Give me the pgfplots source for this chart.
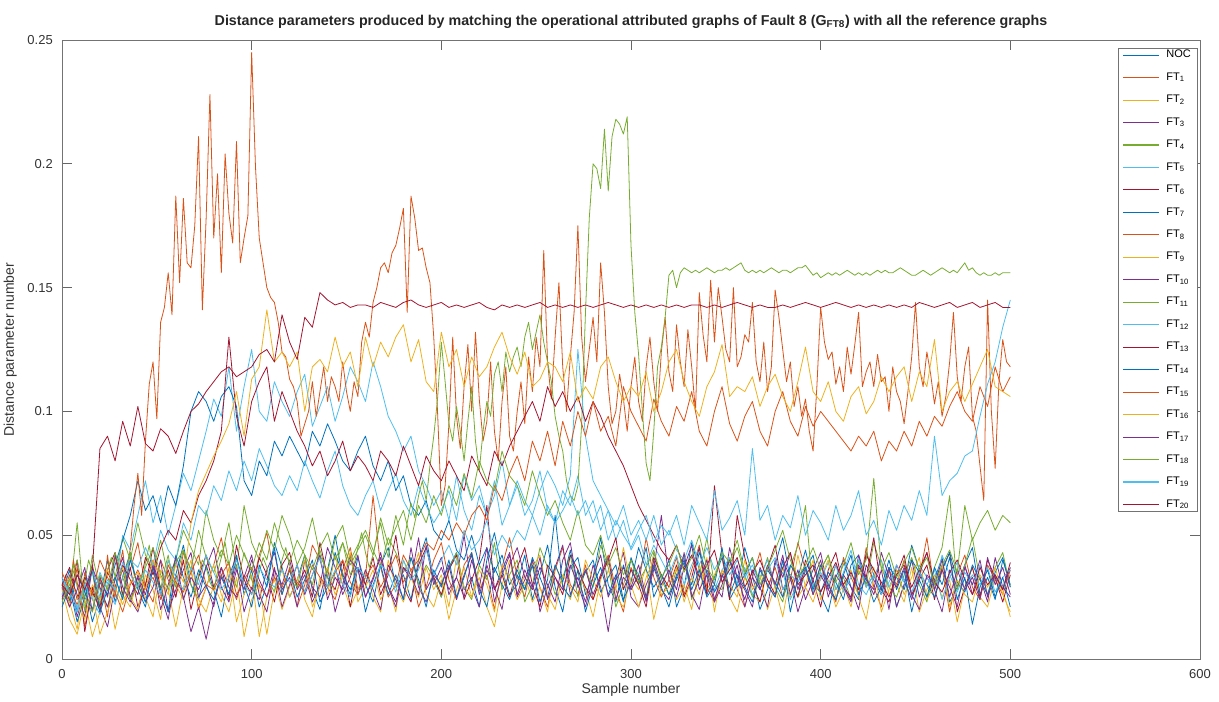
\documentclass[border=0pt]{standalone}
\usepackage{fontspec}
\setmainfont{Liberation Sans}
\usepackage{pgfplots}
\usepackage{pgfplotstable}
\pgfplotsset{compat=1.18}
\definecolor{c1}{rgb}{0,0.447,0.741}
\definecolor{c2}{rgb}{0.85,0.325,0.098}
\definecolor{c3}{rgb}{0.929,0.694,0.125}
\definecolor{c4}{rgb}{0.494,0.184,0.556}
\definecolor{c5}{rgb}{0.466,0.674,0.188}
\definecolor{c6}{rgb}{0.301,0.745,0.933}
\definecolor{c7}{rgb}{0.635,0.078,0.184}
% values in thousandths of the distance parameter
\pgfplotstableread[header=false]{
x 0 2 4 6 8 10 12 14 16 18  20 22 24 26 28 30 32 34 36 38  40 42 44 46 48 50 52 54 56 58  60 62 64 66 68 70 72 74 76 78  80 82 84 86 88 90 92 94 96 98  100 102 104 106 108 110 112 114 116 118  120 122 124 126 128 130 132 134 136 138  140 142 144 146 148 150 152 154 156 158  160 162 164 166 168 170 172 174 176 178  180 182 184 186 188 190 192 194 196 198  200 202 204 206 208 210 212 214 216 218  220 222 224 226 228 230 232 234 236 238  240 242 244 246 248 250 252 254 256 258  260 262 264 266 268 270 272 274 276 278  280 282 284 286 288 290 292 294 296 298  300 302 304 306 308 310 312 314 316 318  320 322 324 326 328 330 332 334 336 338  340 342 344 346 348 350 352 354 356 358  360 362 364 366 368 370 372 374 376 378  380 382 384 386 388 390 392 394 396 398  400 402 404 406 408 410 412 414 416 418  420 422 424 426 428 430 432 434 436 438  440 442 444 446 448 450 452 454 456 458  460 462 464 466 468 470 472 474 476 478  480 482 484 486 488 490 492 494 496 498  500
FT8 28 34 26 40 31 22 35 29 38 24  33 27 42 30 25 36 44 31 45 62  75 58 88 111 120 97 136 142 156 139  187 152 186 160 158 175 211 141 178 228  170 196 156 204 180 168 209 160 170 179  245 199 170 160 150 146 144 136 124 122  113 110 104 90 95 100 112 98 108 118  104 114 110 104 120 108 100 112 106 128  136 130 144 150 158 160 156 164 167 174  182 140 187 178 165 166 158 152 130 100  62 70 95 130 98 85 110 127 100 132  105 88 96 120 92 80 104 118 90 84  100 112 95 122 108 130 118 165 120 105  130 152 118 100 122 140 175 130 112 125  138 120 160 140 110 95 100 115 105 92  110 122 104 96 118 130 112 100 124 138  116 108 135 120 110 133 118 100 148 131  120 153 128 150 138 125 120 150 118 122  131 128 144 120 112 128 108 118 149 138  125 112 120 102 110 98 105 92 84 110  142 128 121 124 111 118 108 126 115 127  140 110 116 120 110 123 112 114 100 118  108 104 95 108 122 144 118 110 124 115  103 112 98 106 120 140 114 104 118 126  98 92 78 64 145 100 77 112 129 120  118
FT11 30 26 33 38 29 24 31 40 35 27  22 30 36 41 33 28 25 37 43 34  30 27 39 46 35 31 28 36 42 33  29 38 44 35 30 26 34 40 37 31  28 35 41 47 38 33 29 36 43 39  32 28 35 41 37 30 27 33 40 45  38 32 29 36 42 34 30 37 44 39  33 28 35 42 47 40 34 38 45 51  43 37 42 49 55 47 41 50 58 52  46 55 63 57 66 72 64 78 90 105  128 112 95 88 102 92 80 96 110 88  76 92 104 98 115 120 108 124 116 122  126 118 130 136 125 132 139 128 120 112  98 90 84 72 66 64 70 95 140 178  200 198 190 214 189 211 218 216 212 219  167 140 123 100 79 72 92 118 126 138  155 157 150 156 158 157 156 157 156 157  158 157 156 157 157 158 157 158 159 160  157 156 157 156 157 156 157 158 157 156  157 157 156 157 158 158 159 157 155 156  154 155 156 155 156 155 156 157 156 155  156 155 156 155 156 157 156 157 156 156  157 158 157 156 155 155 156 157 156 155  156 157 158 157 156 157 156 158 160 157  158 156 155 156 155 155 156 155 156 156  156
}\rawA
\pgfplotstabletranspose[colnames from=0]\tabA\rawA
\pgfplotstableread[header=false]{
x 0 4 8 12 16 20 24 28 32 36  40 44 48 52 56 60 64 68 72 76  80 84 88 92 96 100 104 108 112 116  120 124 128 132 136 140 144 148 152 156  160 164 168 172 176 180 184 188 192 196  200 204 208 212 216 220 224 228 232 236  240 244 248 252 256 260 264 268 272 276  280 284 288 292 296 300 304 308 312 316  320 324 328 332 336 340 344 348 352 356  360 364 368 372 376 380 384 388 392 396  400 404 408 412 416 420 424 428 432 436  440 444 448 452 456 460 464 468 472 476  480 484 488 492 496 500
NOC 26 36 19 30 15 25 40 23 33 43  28 21 37 29 19 34 46 30 24 38  28 17 33 42 26 36 21 30 47 37  25 32 42 28 20 36 50 33 26 41  30 23 38 45 29 34 24 40 49 32  25 37 43 28 33 21 40 51 36 26  30 42 24 34 46 29 19 37 41 26  33 49 30 23 38 28 34 45 25 32  40 21 29 47 36 26 33 41 24 30  45 34 20 28 38 49 32 25 36 42  26 19 33 40 29 24 43 34 28 37  21 30 46 36 25 32 41 23 29 38  45 26 33 24 40 30
FT1 29 21 37 13 28 33 17 42 25 36  47 29 23 40 32 25 43 36 20 29  38 49 32 24 34 28 42 51 33 26  37 21 30 46 40 29 24 36 45 28  33 66 37 25 30 42 36 21 29 40  47 32 24 38 43 28 34 20 37 49  33 25 40 29 21 36 45 30 26 38  24 34 42 28 19 37 30 49 33 25  32 41 26 36 46 29 23 34 40 28  21 33 43 29 37 25 32 47 36 26  38 30 23 41 33 26 45 29 21 36  30 40 25 33 49 28 37 19 34 42  29 24 38 32 26 36
FT2 28 16 10 24 9 19 30 12 26 21  33 25 17 36 28 13 29 40 24 19  30 23 37 15 26 34 9 25 32 20  29 38 24 17 33 26 42 30 21 28  36 25 19 40 29 23 33 43 26 21  32 16 28 37 25 33 21 13 30 40  26 34 23 29 19 38 30 24 36 28  17 32 40 25 21 33 28 37 16 29  36 24 30 20 38 28 34 42 25 19  33 26 23 37 29 17 34 25 30 40  24 32 21 28 36 25 16 33 40 26  30 23 37 19 28 34 25 32 15 29  37 25 21 33 28 17
FT3 25 33 17 28 38 21 13 29 36 24  19 30 40 26 16 34 25 11 21 8  23 33 26 38 19 29 24 36 43 28  33 21 40 29 25 37 19 30 42 26  36 28 20 38 32 24 45 29 23 34  41 26 33 50 29 21 38 28 36 43  25 32 40 19 29 37 46 26 33 23  38 29 11 33 43 25 21 30 37 28  24 34 41 26 20 36 30 25 45 33  28 21 37 30 25 40 33 19 29 36  43 28 24 34 29 20 38 32 26 37  21 30 40 25 33 28 19 36 29 38  26 33 23 41 29 25
FT4 30 24 55 19 42 28 21 33 49 40  55 42 36 48 33 40 52 45 38 60  48 41 55 36 62 47 40 52 44 58  50 38 45 57 42 35 48 54 40 46  52 44 37 49 43 35 41 30 38 33  25 36 43 29 24 38 32 47 28 34  40 23 30 45 37 26 33 42 25 36  29 46 37 21 30 40 34 25 43 32  26 36 42 24 33 49 30 28 38 45  34 25 32 41 29 23 37 46 62 26  36 42 28 33 24 40 30 47 37 29  25 34 41 30 23 37 45 66 28 38  49 32 26 37 43 29
FT5 26 32 20 29 24 18 31 27 50 44  58 72 55 66 50 62 75 68 80 92  105 98 118 92 110 125 100 96 112 104  98 108 115 94 102 110 96 106 118 112  104 120 110 98 92 84 90 76 70 62  68 56 74 60 52 66 58 72 54 62  70 58 64 76 60 55 68 62 74 58  64 52 60 48 56 44 50 38 46 40  34 42 30 38 45 33 28 36 41 30  37 26 33 40 29 35 24 31 38 27  32 39 28 35 44 30 26 33 40 29  36 31 25 38 33 28 42 34 27 35  30 38 26 33 29 37
FT6 33 23 40 11 29 19 36 43 26 37  21 30 45 28 36 25 40 20 33 42  29 37 24 46 32 26 41 34 23 38  43 29 36 25 47 33 28 40 21 37  30 41 26 34 50 29 23 38 45 33  26 36 42 24 32 40 62 28 34 25  37 45 30 21 38 33 26 42 36 29  24 33 40 49 28 36 30 21 41 34  29 38 25 33 45 26 70 42 24 58  41 30 23 37 46 28 34 25 40 32  21 36 43 29 25 37 33 49 28 23  34 42 26 32 38 24 36 43 19 29  37 25 40 33 23 34
FT7 29 23 34 27 20 31 26 38 48 58  72 60 66 55 70 62 78 100 108 104  96 106 110 102 72 66 80 74 88 82  90 84 78 92 86 95 88 80 76 84  90 78 72 80 68 74 62 58 64 52  48 56 44 40 50 38 45 35 42 30  36 28 41 33 25 38 31 44 29 35  40 27 33 38 24 31 45 36 29 34  26 32 39 30 43 35 27 33 40 29  34 41 28 36 31 25 38 33 44 30  27 35 31 24 38 42 29 34 26 37  33 28 40 35 30 25 36 43 31 27  38 32 26 35 41 29
FT9 30 23 12 33 26 10 19 29 37 25  20 34 28 16 40 30 24 36 21 29  38 26 19 33 9 24 30 10 28 36  25 32 40 21 29 37 26 33 43 23  29 36 24 30 19 40 33 25 37 28  34 21 41 29 25 36 30 19 38 33  24 30 37 42 26 20 34 29 23 40  32 25 36 28 45 30 21 33 40 26  29 37 23 33 26 41 19 36 30 25  40 28 34 20 30 37 25 42 29 23  33 40 25 30 21 36 29 37 19 28  36 26 33 41 24 30 38 21 32 26  23 34 29 37 26 19
FT10 24 34 26 17 37 29 21 32 41 25  33 23 29 40 19 28 36 43 25 30  21 37 29 25 33 42 26 19 36 30  40 28 34 23 30 45 37 26 33 42  25 33 41 29 21 37 32 49 28 34  30 38 24 34 42 26 36 29 20 38  45 33 28 37 30 23 40 47 29 36  26 34 41 24 33 29 38 25 36 58  32 25 37 46 28 34 23 30 40 33  24 36 29 21 40 33 43 28 37 26  34 28 38 30 24 42 33 26 36 20  38 32 24 34 43 28 36 29 21 37  30 40 25 34 28 37
FT12 32 26 19 30 24 35 28 22 33 40  37 45 38 52 44 40 55 48 62 58  70 64 76 68 80 72 85 78 70 66  74 68 80 72 65 76 84 70 62 58  66 72 60 68 75 64 58 70 62 55  60 68 56 74 64 70 58 66 80 62  72 64 58 68 76 70 62 74 125 90  72 66 60 54 62 50 56 48 58 46  52 44 40 48 38 45 36 42 34 40  33 38 30 36 41 28 34 31 37 29  35 30 38 27 33 40 29 34 26 31  38 32 27 35 30 36 24 33 39 28  34 30 37 27 33 36
FT13 30 37 24 33 27 21 35 29 38 32  26 41 34 45 52 48 60 55 66 72  80 92 130 98 86 104 112 118 96 108  100 92 86 78 84 74 80 88 76 82  78 72 84 80 74 86 78 70 82 76  72 80 74 68 82 76 70 84 78 86  92 98 104 96 110 102 108 100 106 96  104 98 90 84 78 70 62 56 50 44  40 46 36 42 33 38 44 31 36 41  29 35 40 32 26 37 43 30 34 38  27 33 39 30 35 28 42 36 31 25  34 38 29 36 43 31 27 35 40 32  26 37 30 34 28 39
FT14 21 29 15 25 36 19 28 33 24 40  30 23 37 28 19 42 33 25 36 29  24 34 26 41 30 21 38 29 45 26  36 25 32 40 23 29 43 34 28 37  19 30 38 26 34 24 41 32 21 36  29 40 25 33 43 28 21 37 30 24  34 28 38 23 32 58 29 25 36 19  30 37 26 34 23 41 32 24 38 29  21 33 40 28 36 25 30 45 26 34  29 23 36 30 25 40 19 33 37 28  38 30 24 34 42 26 33 23 29 40  28 36 19 32 25 37 30 41 24 33  14 29 36 25 33 21
FT15 35 28 22 31 26 40 33 27 19 30  36 29 33 24 38 31 27 35 42 30  28 34 39 26 32 37 30 25 33 29  36 31 27 38 33 29 35 40 31 26  33 38 29 35 42 31 36 40 47 44  52 48 55 50 58 62 56 70 64 75  82 72 88 80 92 78 96 86 100 90  104 92 98 86 110 100 94 88 105 96  90 102 96 108 92 86 100 110 95 88  98 104 92 86 100 108 96 90 102 94  100 96 92 88 84 90 86 92 80 88  84 92 86 96 90 98 94 102 108 100  96 110 102 118 108 114
FT16 27 33 25 16 30 24 36 29 22 31  35 28 40 33 26 38 31 55 68 75  82 88 95 108 90 113 118 141 120 124  118 124 100 118 121 116 130 118 124 110  130 118 128 122 130 135 120 129 112 108  132 118 125 110 122 114 118 126 132 122  115 124 110 113 120 118 112 124 104 110  105 118 122 112 104 110 106 116 100 108  120 125 112 104 98 110 116 127 106 110  108 114 102 110 115 106 100 112 126 108  104 112 100 96 106 110 99 104 114 108  114 118 104 116 110 129 100 108 112 104  111 118 125 110 108 106
FT17 30 21 28 37 19 33 25 42 29 23  34 26 38 20 30 41 24 33 28 37  45 29 23 36 28 40 32 25 37 21  30 38 26 34 42 24 33 28 40 36  25 32 43 29 23 37 34 26 46 30  37 28 33 25 40 29 45 23 34 42  26 36 29 41 24 33 28 38 30 21  33 42 25 32 37 28 34 23 40 30  36 28 43 25 32 40 24 34 29 38  21 33 28 38 30 42 26 36 24 32  40 25 34 29 23 38 32 28 43 33  29 37 26 20 34 30 40 25 36 28  33 24 41 30 37 26
FT18 23 30 40 25 19 34 28 43 33 24  30 37 45 34 28 39 44 36 52 41  35 44 38 50 42 36 47 40 55 45  39 48 42 36 45 51 40 47 38 44  50 42 57 46 53 60 48 62 55 66  58 70 62 75 65 80 72 68 84 74  70 62 76 66 58 64 55 48 60 46  42 50 38 45 34 40 31 37 44 33  38 46 35 41 50 37 32 43 39 48  35 41 30 37 44 52 40 33 38 45  36 42 31 38 47 34 40 73 36 43  33 39 45 36 41 30 38 44 35 62  48 55 60 52 58 55
FT19 33 27 21 30 36 25 32 28 39 34  29 36 31 26 40 33 28 37 30 42  35 28 33 40 30 26 37 32 29 36  31 38 27 34 41 29 36 30 25 37  33 29 38 35 27 40 32 36 44 34  40 46 38 52 44 48 56 42 50 45  52 48 58 50 62 55 60 66 58 64  55 62 48 56 50 45 52 58 47 54  50 58 46 62 55 48 68 52 57 64  50 85 56 62 48 58 53 66 50 60  55 48 62 52 58 68 50 56 46 60  52 62 56 68 58 90 66 72 75 82  84 98 111 120 134 145
FT20 30 26 34 28 36 85 90 80 96 86  102 87 84 93 90 83 92 100 103 108  112 116 118 114 116 118 123 125 120 139  128 121 138 134 148 145 143 144 142 143  143 142 144 143 142 144 145 143 142 143  144 142 143 142 143 144 142 141 143 142  143 142 143 144 142 143 142 143 142 143  142 143 144 143 142 143 142 143 142 143  142 143 142 143 143 142 143 142 143 144  143 142 143 142 142 143 142 143 144 143  142 143 144 143 142 143 142 143 142 143  142 143 142 144 143 142 143 144 142 143  144 142 143 144 142 142
}\rawB
\pgfplotstabletranspose[colnames from=0]\tabB\rawB
\begin{document}
\begin{tikzpicture}
\begin{axis}[
  scale only axis, width=853.5pt, height=464.25pt,
  xmin=0, xmax=600, ymin=0, ymax=250,
  xtick={0,100,...,600}, ytick={0,50,...,250},
  yticklabels={0,0.05,0.1,0.15,0.2,0.25},
  tick align=inside, major tick length=7.5pt,
  axis line style={black!55, line width=0.6pt},
  every tick/.style={black!60, line width=0.6pt},
  tick label style={font=\fontsize{9.75}{11}\selectfont, text=black!80},
  /pgf/number format/assume math mode=true,
  xticklabel style={yshift=-4pt},
  yticklabel style={xshift=-3.4pt},
  xlabel={Sample number}, ylabel={Distance parameter number},
  label style={font=\fontsize{10.5}{12}\selectfont, text=black!80},
  xlabel style={at={(axis description cs:0.5,-0.0565)}, anchor=base},
  ylabel style={at={(axis description cs:-0.0422,0.5)}, anchor=base},
  title={Distance parameters produced by matching the operational attributed graphs of Fault 8 (G\textsubscript{FT8}) with all the reference graphs},
  title style={font=\fontsize{10.7}{12}\selectfont\bfseries, text=black!85, at={(axis description cs:0.5,1)}, anchor=base, yshift=5.25pt},
  no markers,
  every axis plot/.append style={line width=0.6pt, line join=round},
  legend image code/.code={\draw[#1, line width=0.8pt] (0pt,0pt) -- (27pt,0pt);},
  legend cell align=left,
  legend style={at={(0.9982,0.987)}, anchor=north east, draw=black!55, line width=0.6pt,
    font=\fontsize{8.25}{9}\selectfont,
    inner xsep=3pt, inner ysep=1pt, row sep=8.85pt,
    nodes={inner ysep=0pt, text height=6pt, text depth=2pt},
    /tikz/every odd column/.append style={column sep=3pt}},
]
\addplot[c1] table[x=x,y=NOC]{\tabB}; \addlegendentry{NOC}
\addplot[c2] table[x=x,y=FT1]{\tabB}; \addlegendentry{FT\textsubscript{1}}
\addplot[c3] table[x=x,y=FT2]{\tabB}; \addlegendentry{FT\textsubscript{2}}
\addplot[c4] table[x=x,y=FT3]{\tabB}; \addlegendentry{FT\textsubscript{3}}
\addplot[c5] table[x=x,y=FT4]{\tabB}; \addlegendentry{FT\textsubscript{4}}
\addplot[c6] table[x=x,y=FT5]{\tabB}; \addlegendentry{FT\textsubscript{5}}
\addplot[c7] table[x=x,y=FT6]{\tabB}; \addlegendentry{FT\textsubscript{6}}
\addplot[c1] table[x=x,y=FT7]{\tabB}; \addlegendentry{FT\textsubscript{7}}
\addplot[c2] table[x=x,y=FT8]{\tabA}; \addlegendentry{FT\textsubscript{8}}
\addplot[c3] table[x=x,y=FT9]{\tabB}; \addlegendentry{FT\textsubscript{9}}
\addplot[c4] table[x=x,y=FT10]{\tabB}; \addlegendentry{FT\textsubscript{10}}
\addplot[c5] table[x=x,y=FT11]{\tabA}; \addlegendentry{FT\textsubscript{11}}
\addplot[c6] table[x=x,y=FT12]{\tabB}; \addlegendentry{FT\textsubscript{12}}
\addplot[c7] table[x=x,y=FT13]{\tabB}; \addlegendentry{FT\textsubscript{13}}
\addplot[c1] table[x=x,y=FT14]{\tabB}; \addlegendentry{FT\textsubscript{14}}
\addplot[c2] table[x=x,y=FT15]{\tabB}; \addlegendentry{FT\textsubscript{15}}
\addplot[c3] table[x=x,y=FT16]{\tabB}; \addlegendentry{FT\textsubscript{16}}
\addplot[c4] table[x=x,y=FT17]{\tabB}; \addlegendentry{FT\textsubscript{17}}
\addplot[c5] table[x=x,y=FT18]{\tabB}; \addlegendentry{FT\textsubscript{18}}
\addplot[c6] table[x=x,y=FT19]{\tabB}; \addlegendentry{FT\textsubscript{19}}
\addplot[c7] table[x=x,y=FT20]{\tabB}; \addlegendentry{FT\textsubscript{20}}
\end{axis}
\pgfresetboundingbox
\path (-46.5pt,-31.5pt) rectangle (867.75pt,494.25pt);
\end{tikzpicture}
\end{document}
